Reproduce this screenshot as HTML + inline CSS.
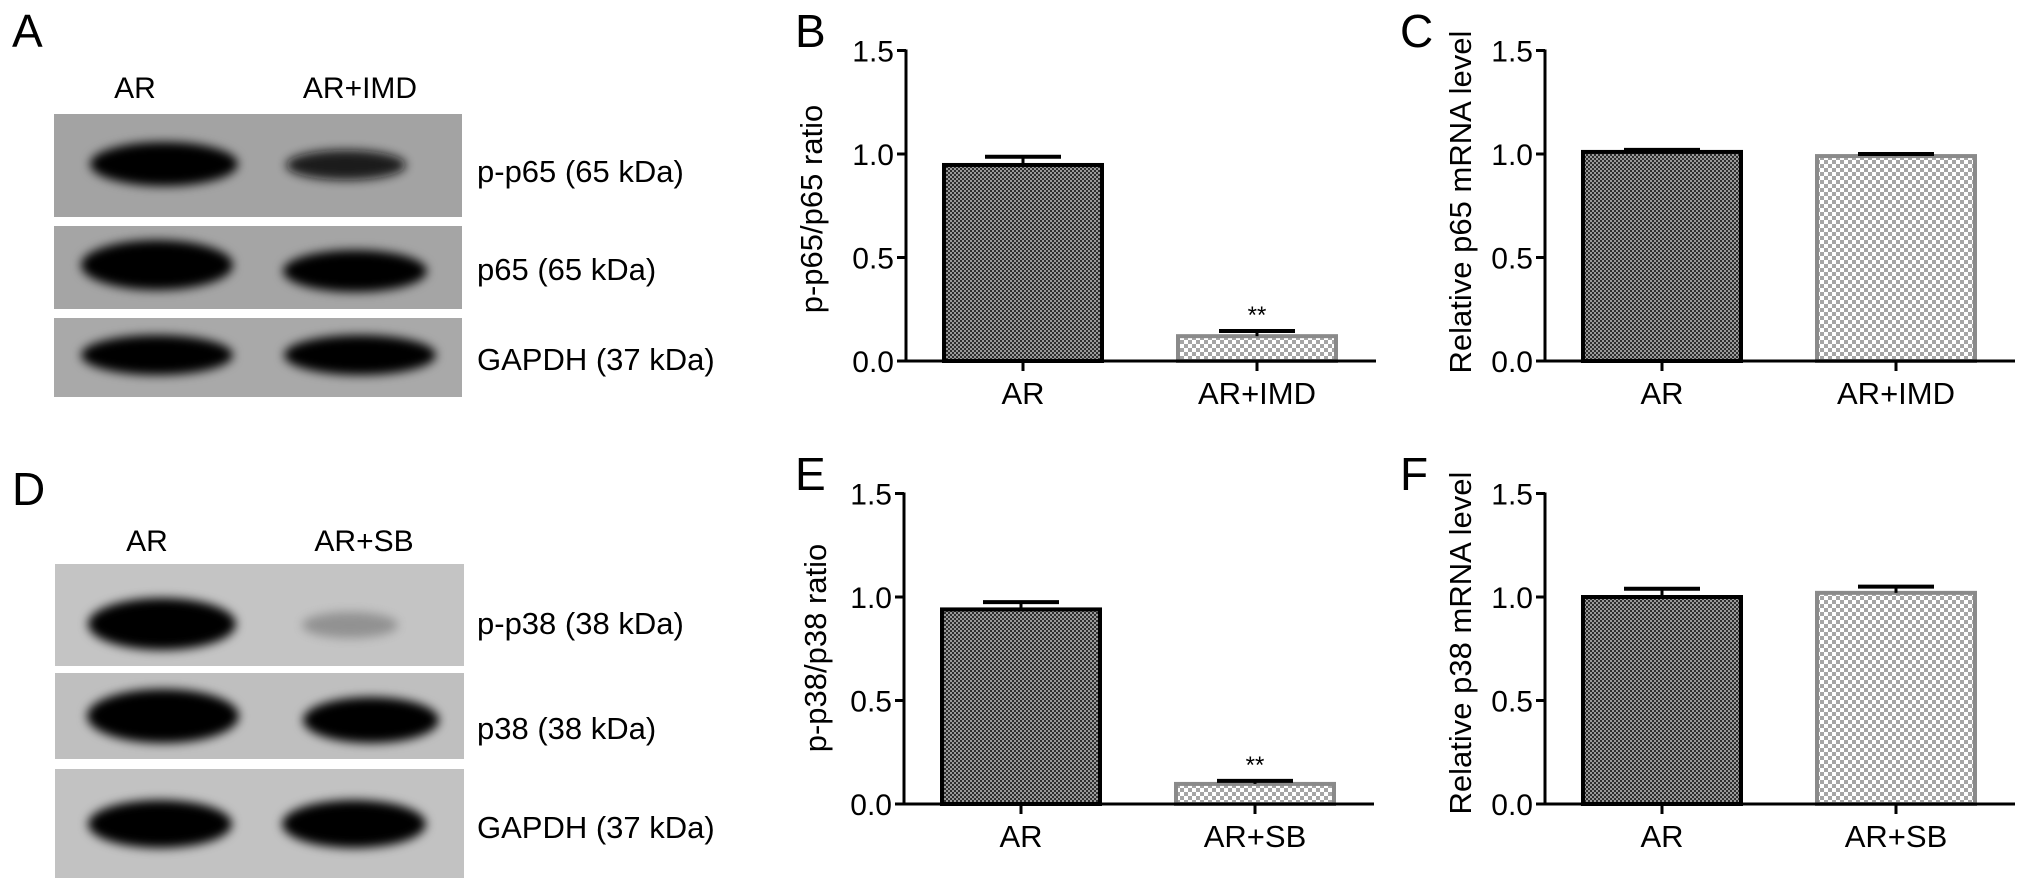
<!DOCTYPE html>
<html><head><meta charset="utf-8"><style>
html,body{margin:0;padding:0;background:#fff}
svg{display:block;font-family:"Liberation Sans",Arial,sans-serif}
</style></head><body>
<svg id="fig" width="2032" height="891" viewBox="0 0 2032 891" xmlns="http://www.w3.org/2000/svg">
<defs>
<pattern id="darkPat" width="4" height="4" patternUnits="userSpaceOnUse">
<rect width="4" height="4" fill="#9a9a9a"/><rect width="2" height="2" fill="#2e2e2e"/><rect x="2" y="2" width="2" height="2" fill="#2e2e2e"/>
</pattern>
<pattern id="lightPat" width="8" height="8" patternUnits="userSpaceOnUse">
<rect width="8" height="8" fill="#fff"/><rect width="4" height="4" fill="#a5a5a5"/><rect x="4" y="4" width="4" height="4" fill="#a5a5a5"/>
</pattern>
<filter id="blur" x="-30%" y="-60%" width="160%" height="220%"><feGaussianBlur stdDeviation="5"/></filter>
</defs>

<!-- Panel A blots -->
<g>
<text x="12" y="47" font-size="46">A</text>
<text x="135" y="98" font-size="30" text-anchor="middle">AR</text>
<text x="360" y="98" font-size="30" text-anchor="middle">AR+IMD</text>
<g>
<rect x="54" y="114" width="408" height="103" fill="#a3a3a3"/>
<ellipse cx="164" cy="164" rx="74" ry="22" fill="#000" filter="url(#blur)"/>
<ellipse cx="346" cy="165" rx="60" ry="15" fill="#111" opacity="0.9" filter="url(#blur)"/>
</g>
<g>
<rect x="54" y="226" width="408" height="83" fill="#a5a5a5"/>
<ellipse cx="157" cy="265" rx="76" ry="25" fill="#000" filter="url(#blur)"/>
<ellipse cx="355" cy="271" rx="72" ry="21" fill="#000" filter="url(#blur)"/>
</g>
<g>
<rect x="54" y="318" width="408" height="79" fill="#a9a9a9"/>
<ellipse cx="157" cy="355" rx="76" ry="20" fill="#000" filter="url(#blur)"/>
<ellipse cx="360" cy="355" rx="76" ry="20" fill="#000" filter="url(#blur)"/>
</g>
<text x="477" y="182" font-size="31">p-p65 (65 kDa)</text>
<text x="477" y="280" font-size="31">p65 (65 kDa)</text>
<text x="477" y="370" font-size="31">GAPDH (37 kDa)</text>
</g>

<!-- Panel D blots -->
<g>
<text x="12" y="505" font-size="46">D</text>
<text x="147" y="551" font-size="30" text-anchor="middle">AR</text>
<text x="364" y="551" font-size="30" text-anchor="middle">AR+SB</text>
<g>
<rect x="55" y="564" width="409" height="102" fill="#c4c4c4"/>
<ellipse cx="162" cy="624" rx="74" ry="26" fill="#000" filter="url(#blur)"/>
<ellipse cx="350" cy="625" rx="48" ry="13" fill="#555" opacity="0.45" filter="url(#blur)"/>
</g>
<g>
<rect x="55" y="673" width="409" height="86" fill="#bfbfbf"/>
<ellipse cx="163" cy="716" rx="76" ry="27" fill="#000" filter="url(#blur)"/>
<ellipse cx="371" cy="720" rx="68" ry="23" fill="#000" filter="url(#blur)"/>
</g>
<g>
<rect x="55" y="769" width="409" height="109" fill="#c2c2c2"/>
<ellipse cx="160" cy="824" rx="72" ry="24" fill="#000" filter="url(#blur)"/>
<ellipse cx="354" cy="824" rx="72" ry="24" fill="#000" filter="url(#blur)"/>
</g>
<text x="477" y="634" font-size="31">p-p38 (38 kDa)</text>
<text x="477" y="739" font-size="31">p38 (38 kDa)</text>
<text x="477" y="838" font-size="31">GAPDH (37 kDa)</text>
</g>

<g id="charts"></g>
</svg>
<script>
const tickValues = [0, 0.5, 1.0, 1.5];
const tickLabels = ["0.0", "0.5", "1.0", "1.5"];

const catsB = ["AR", "AR+IMD"];
const meansB = [0.947, 0.12];
const semB = [0.04, 0.025];
const sigB = ["", "**"];

const catsC = ["AR", "AR+IMD"];
const meansC = [1.01, 0.99];
const semC = [0.01, 0.01];
const sigC = ["", ""];

const catsE = ["AR", "AR+SB"];
const meansE = [0.94, 0.097];
const semE = [0.035, 0.015];
const sigE = ["", "**"];

const catsF = ["AR", "AR+SB"];
const meansF = [1.0, 1.02];
const semF = [0.04, 0.03];
const sigF = ["", ""];

const NS = "http://www.w3.org/2000/svg";
const root = document.getElementById('charts');
function mk(tag, attrs, parent) {
  const e = document.createElementNS(NS, tag);
  for (const k in attrs) e.setAttribute(k, attrs[k]);
  parent.appendChild(e);
  return e;
}

function drawChart(id, letter, letterX, title, axisX, y0, cats, means, sems, sigs, titleX, titleY) {
  const g = mk('g', {}, root);
  
  
  const unit = 207;
  const y = v => y0 - v * unit;
  const x = i => axisX + 117 + i * 234;
  const bw = 158;

  const lt = mk('text', {x: letterX, y: y0 - 314, 'font-size': 46}, g);
  
  
  lt.textContent = letter;

  const tt = mk('text', {x: titleX, y: titleY, 'font-size': 31, 'text-anchor': 'middle', transform: 'rotate(-90 ' + titleX + ' ' + titleY + ')', dy: 11}, g);
  
  
  tt.textContent = title;

  cats.forEach((c, i) => {
    const top = y(means[i]);
    const dark = i === 0;
    const r = mk('rect', {x: x(i) - bw / 2, y: top, width: bw, height: y0 - top,
      fill: dark ? 'url(#darkPat)' : 'url(#lightPat)', stroke: dark ? '#000' : '#8a8a8a', 'stroke-width': 4}, g);
    
    
    const ce = y(means[i] + sems[i]);
    const ev = mk('line', {x1: x(i), x2: x(i), y1: top, y2: ce, stroke: '#000', 'stroke-width': 3}, g);
    
    
    const cap = mk('line', {x1: x(i) - 38, x2: x(i) + 38, y1: ce, y2: ce, stroke: '#000', 'stroke-width': 4}, g);
    
    
    if (sigs[i]) {
      const s = mk('text', {x: x(i), y: ce - 8, 'font-size': 24, 'text-anchor': 'middle'}, g);
      
      
      s.textContent = sigs[i];
    }
    const xt = mk('line', {x1: x(i), x2: x(i), y1: y0, y2: y0 + 10, stroke: '#000', 'stroke-width': 3}, g);
    
    
    const xl = mk('text', {x: x(i), y: y0 + 43, 'font-size': 31, 'text-anchor': 'middle'}, g);
    
    
    xl.textContent = c;
  });

  const ya = mk('line', {x1: axisX, x2: axisX, y1: y(1.5) - 1, y2: y0 + 1.5, stroke: '#000', 'stroke-width': 3}, g);
  
  
  const xa = mk('line', {x1: axisX - 8, x2: axisX + 470, y1: y0, y2: y0, stroke: '#000', 'stroke-width': 3}, g);
  
  
  tickValues.forEach((v, k) => {
    const t = mk('line', {x1: axisX - 9, x2: axisX, y1: y(v), y2: y(v), stroke: '#000', 'stroke-width': 3}, g);
    
    
    const tl = mk('text', {x: axisX - 12, y: y(v) + 11, 'font-size': 30, 'text-anchor': 'end'}, g);
    
    
    tl.textContent = tickLabels[k];
  });
}

drawChart('b', 'B', 795, 'p-p65/p65 ratio', 906, 361, catsB, meansB, semB, sigB, 811, 209);
drawChart('c', 'C', 1400, 'Relative p65 mRNA level', 1545, 361, catsC, meansC, semC, sigC, 1460, 202);
drawChart('e', 'E', 795, 'p-p38/p38 ratio', 904, 804, catsE, meansE, semE, sigE, 815, 648);
drawChart('f', 'F', 1400, 'Relative p38 mRNA level', 1545, 804, catsF, meansF, semF, sigF, 1460, 643);
</script>
</body></html>
